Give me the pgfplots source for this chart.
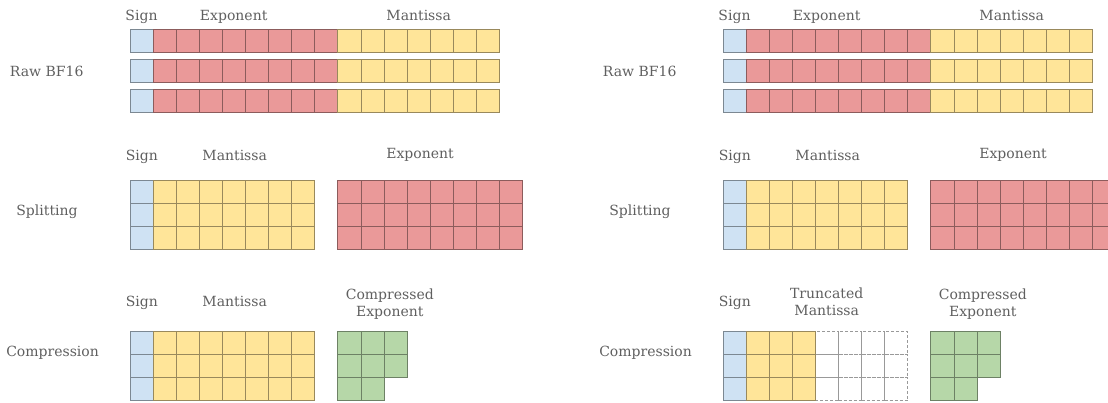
\documentclass[border=0pt]{standalone}
\usepackage{fontspec}
\setmainfont{DejaVu Serif}
\usepackage{pgfplots}
\pgfplotsset{compat=1.18}
\usepackage{pgfplotstable}

\definecolor{signblue}{RGB}{207,226,243}
\definecolor{expred}{RGB}{234,153,153}
\definecolor{mantyellow}{RGB}{255,229,153}
\definecolor{compgreen}{RGB}{182,215,168}
\definecolor{labelgray}{RGB}{95,95,95}

\tikzset{lbl/.style={anchor=base, text=labelgray, inner sep=0pt, font=\fontsize{14}{16}\selectfont}}

% one bit = one cell, 23.1 x 23 px
\pgfdeclareplotmark{cell}{%
  \pgfpathrectangle{\pgfqpoint{-11.55pt}{-11.5pt}}{\pgfqpoint{23.1pt}{23pt}}%
  \pgfusepathqfillstroke}

% cell centres (px, y from top)
\pgfplotstableread[row sep=\\]{
x y\\
141.55 41.3\\ 141.55 71\\ 141.55 100.7\\
141.55 192\\ 141.55 215\\ 141.55 238\\
141.55 343\\ 141.55 366\\ 141.55 389\\
}\signcells

\pgfplotstableread[row sep=\\]{
x y\\
164.65 41.3\\ 187.75 41.3\\ 210.85 41.3\\ 233.95 41.3\\ 257.05 41.3\\ 280.15 41.3\\ 303.25 41.3\\ 326.35 41.3\\
164.65 71\\ 187.75 71\\ 210.85 71\\ 233.95 71\\ 257.05 71\\ 280.15 71\\ 303.25 71\\ 326.35 71\\
164.65 100.7\\ 187.75 100.7\\ 210.85 100.7\\ 233.95 100.7\\ 257.05 100.7\\ 280.15 100.7\\ 303.25 100.7\\ 326.35 100.7\\
349.45 192\\ 372.55 192\\ 395.65 192\\ 418.75 192\\ 441.85 192\\ 464.95 192\\ 488.05 192\\ 511.15 192\\
349.45 215\\ 372.55 215\\ 395.65 215\\ 418.75 215\\ 441.85 215\\ 464.95 215\\ 488.05 215\\ 511.15 215\\
349.45 238\\ 372.55 238\\ 395.65 238\\ 418.75 238\\ 441.85 238\\ 464.95 238\\ 488.05 238\\ 511.15 238\\
}\expcells

\pgfplotstableread[row sep=\\]{
x y\\
349.45 41.3\\ 372.55 41.3\\ 395.65 41.3\\ 418.75 41.3\\ 441.85 41.3\\ 464.95 41.3\\ 488.05 41.3\\
349.45 71\\ 372.55 71\\ 395.65 71\\ 418.75 71\\ 441.85 71\\ 464.95 71\\ 488.05 71\\
349.45 100.7\\ 372.55 100.7\\ 395.65 100.7\\ 418.75 100.7\\ 441.85 100.7\\ 464.95 100.7\\ 488.05 100.7\\
164.65 192\\ 187.75 192\\ 210.85 192\\ 233.95 192\\ 257.05 192\\ 280.15 192\\ 303.25 192\\
164.65 215\\ 187.75 215\\ 210.85 215\\ 233.95 215\\ 257.05 215\\ 280.15 215\\ 303.25 215\\
164.65 238\\ 187.75 238\\ 210.85 238\\ 233.95 238\\ 257.05 238\\ 280.15 238\\ 303.25 238\\
}\mantcells

\pgfplotstableread[row sep=\\]{
x y\\
164.65 343\\ 187.75 343\\ 210.85 343\\ 233.95 343\\ 257.05 343\\ 280.15 343\\ 303.25 343\\
164.65 366\\ 187.75 366\\ 210.85 366\\ 233.95 366\\ 257.05 366\\ 280.15 366\\ 303.25 366\\
164.65 389\\ 187.75 389\\ 210.85 389\\ 233.95 389\\ 257.05 389\\ 280.15 389\\ 303.25 389\\
}\mantfull

\pgfplotstableread[row sep=\\]{
x y\\
164.65 343\\ 187.75 343\\ 210.85 343\\
164.65 366\\ 187.75 366\\ 210.85 366\\
164.65 389\\ 187.75 389\\ 210.85 389\\
}\manttrunc

\pgfplotstableread[row sep=\\]{
x y\\
233.95 343\\ 257.05 343\\ 280.15 343\\ 303.25 343\\
233.95 366\\ 257.05 366\\ 280.15 366\\ 303.25 366\\
233.95 389\\ 257.05 389\\ 280.15 389\\ 303.25 389\\
}\dropped

\pgfplotstableread[row sep=\\]{
x y\\
349.45 343\\ 372.55 343\\ 395.65 343\\
349.45 366\\ 372.55 366\\ 395.65 366\\
349.45 389\\ 372.55 389\\
}\compcells

\begin{document}
\begin{tikzpicture}
\begin{axis}[
  scale only axis,
  width=1108pt, height=402pt,
  xmin=0, xmax=1108, ymin=0, ymax=402,
  y dir=reverse,
  axis lines=none,
  clip marker paths=true,
  every axis plot/.append style={only marks, mark=cell, line width=0.9pt},
]
% left panel
\addplot[draw=signblue!60!black, fill=signblue] table {\signcells};
\addplot[draw=expred!60!black, fill=expred] table {\expcells};
\addplot[draw=mantyellow!60!black, fill=mantyellow] table {\mantcells};
\addplot[draw=mantyellow!60!black, fill=mantyellow] table {\mantfull};
\addplot[draw=compgreen!60!black, fill=compgreen] table {\compcells};
% right panel, shifted 593 px
\addplot[draw=signblue!60!black, fill=signblue] table[x expr=\thisrow{x}+593] {\signcells};
\addplot[draw=expred!60!black, fill=expred] table[x expr=\thisrow{x}+593] {\expcells};
\addplot[draw=mantyellow!60!black, fill=mantyellow] table[x expr=\thisrow{x}+593] {\mantcells};
\addplot[draw=black!40, fill=white, mark options={dash pattern=on 3pt off 2pt}, line width=0.7pt] table[x expr=\thisrow{x}+593] {\dropped};
\addplot[draw=mantyellow!60!black, fill=mantyellow] table[x expr=\thisrow{x}+593] {\manttrunc};
\addplot[draw=compgreen!60!black, fill=compgreen] table[x expr=\thisrow{x}+593] {\compcells};

% labels, left
\node[lbl] at (axis cs:141.5,20) {Sign};
\node[lbl] at (axis cs:233.7,20) {Exponent};
\node[lbl] at (axis cs:418.7,20) {Mantissa};
\node[lbl] at (axis cs:46.7,76.7) {Raw BF16};
\node[lbl] at (axis cs:141.8,160.7) {Sign};
\node[lbl] at (axis cs:234.7,160.7) {Mantissa};
\node[lbl] at (axis cs:420,158.3) {Exponent};
\node[lbl] at (axis cs:47,215) {Splitting};
\node[lbl] at (axis cs:141.8,306.7) {Sign};
\node[lbl] at (axis cs:234.7,306.7) {Mantissa};
\node[lbl] at (axis cs:389.8,299.3) {Compressed};
\node[lbl] at (axis cs:389.8,316.7) {Exponent};
\node[lbl] at (axis cs:52.6,356) {Compression};
% labels, right
\node[lbl] at (axis cs:734.5,20) {Sign};
\node[lbl] at (axis cs:826.7,20) {Exponent};
\node[lbl] at (axis cs:1011.7,20) {Mantissa};
\node[lbl] at (axis cs:639.7,76.7) {Raw BF16};
\node[lbl] at (axis cs:734.8,160.7) {Sign};
\node[lbl] at (axis cs:827.7,160.7) {Mantissa};
\node[lbl] at (axis cs:1013,158.3) {Exponent};
\node[lbl] at (axis cs:640,215) {Splitting};
\node[lbl] at (axis cs:734.8,306.7) {Sign};
\node[lbl] at (axis cs:826.7,298.3) {Truncated};
\node[lbl] at (axis cs:826.7,315.7) {Mantissa};
\node[lbl] at (axis cs:982.8,299.3) {Compressed};
\node[lbl] at (axis cs:982.8,316.7) {Exponent};
\node[lbl] at (axis cs:645.6,356) {Compression};
\end{axis}
\pgfresetboundingbox
\useasboundingbox (current axis.south west) rectangle (current axis.north east);
\end{tikzpicture}
\end{document}
